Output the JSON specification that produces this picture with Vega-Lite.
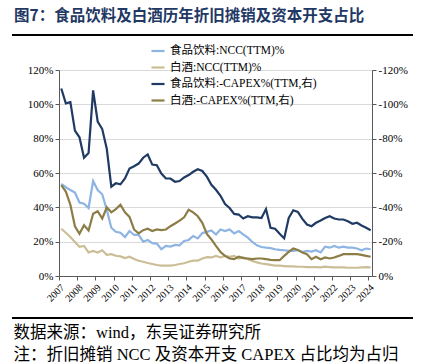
{
  "$schema": "https://vega.github.io/schema/vega-lite/v6.json",
  "width": 313,
  "height": 206,
  "autosize": {"type": "none"},
  "padding": {"left": 59, "top": 70, "right": 52, "bottom": 88},
  "background": "white",
  "title": {
    "text": "图7：食品饮料及白酒历年折旧摊销及资本开支占比",
    "anchor": "start",
    "dx": 3,
    "offset": 9,
    "font": "Noto Sans CJK SC",
    "fontSize": 15.5,
    "fontWeight": "bold",
    "color": "#1F3864"
  },
  "config": {
    "view": {"stroke": null},
    "font": "Liberation Serif, Noto Sans CJK SC",
    "axis": {
      "labelFont": "Liberation Serif, Noto Sans CJK SC",
      "labelFontSize": 11,
      "labelColor": "#000000",
      "domainColor": "#595959",
      "tickColor": "#595959",
      "tickSize": 4,
      "gridColor": "#d9d9d9",
      "labelPadding": 2
    },
    "axisX": {"labelOverlap": false, "labelAngle": -45, "labelFontSize": 10, "labelFlush": false, "tickCount": 30},
    "legend": {
      "labelFont": "Liberation Serif, Noto Sans CJK SC",
      "labelFontSize": 11.5,
      "labelColor": "#000000"
    }
  },
  "data": {
    "values": [
      {"t": 2007.125, "食品饮料:NCC(TTM)%": 0.536, "白酒:NCC(TTM)%": 0.275, "食品饮料:-CAPEX%(TTM,右)": -1.092, "白酒:-CAPEX%(TTM,右)": -0.530},
      {"t": 2007.375, "食品饮料:NCC(TTM)%": 0.517, "白酒:NCC(TTM)%": 0.252, "食品饮料:-CAPEX%(TTM,右)": -1.006, "白酒:-CAPEX%(TTM,右)": -0.492},
      {"t": 2007.625, "食品饮料:NCC(TTM)%": 0.501, "白酒:NCC(TTM)%": 0.227, "食品饮料:-CAPEX%(TTM,右)": -1.013, "白酒:-CAPEX%(TTM,右)": -0.415},
      {"t": 2007.875, "食品饮料:NCC(TTM)%": 0.486, "白酒:NCC(TTM)%": 0.198, "食品饮料:-CAPEX%(TTM,右)": -0.847, "白酒:-CAPEX%(TTM,右)": -0.290},
      {"t": 2008.125, "食品饮料:NCC(TTM)%": 0.428, "白酒:NCC(TTM)%": 0.170, "食品饮料:-CAPEX%(TTM,右)": -0.808, "白酒:-CAPEX%(TTM,右)": -0.246},
      {"t": 2008.375, "食品饮料:NCC(TTM)%": 0.421, "白酒:NCC(TTM)%": 0.175, "食品饮料:-CAPEX%(TTM,右)": -0.689, "白酒:-CAPEX%(TTM,右)": -0.296},
      {"t": 2008.625, "食品饮料:NCC(TTM)%": 0.396, "白酒:NCC(TTM)%": 0.137, "食品饮料:-CAPEX%(TTM,右)": -0.716, "白酒:-CAPEX%(TTM,右)": -0.265},
      {"t": 2008.875, "食品饮料:NCC(TTM)%": 0.553, "白酒:NCC(TTM)%": 0.146, "食品饮料:-CAPEX%(TTM,右)": -1.081, "白酒:-CAPEX%(TTM,右)": -0.363},
      {"t": 2009.125, "食品饮料:NCC(TTM)%": 0.501, "白酒:NCC(TTM)%": 0.137, "食品饮料:-CAPEX%(TTM,右)": -0.900, "白酒:-CAPEX%(TTM,右)": -0.377},
      {"t": 2009.375, "食品饮料:NCC(TTM)%": 0.476, "白酒:NCC(TTM)%": 0.150, "食品饮料:-CAPEX%(TTM,右)": -0.856, "白酒:-CAPEX%(TTM,右)": -0.334},
      {"t": 2009.625, "食品饮料:NCC(TTM)%": 0.386, "白酒:NCC(TTM)%": 0.123, "食品饮料:-CAPEX%(TTM,右)": -0.741, "白酒:-CAPEX%(TTM,右)": -0.400},
      {"t": 2009.875, "食品饮料:NCC(TTM)%": 0.281, "白酒:NCC(TTM)%": 0.127, "食品饮料:-CAPEX%(TTM,右)": -0.520, "白酒:-CAPEX%(TTM,右)": -0.371},
      {"t": 2010.125, "食品饮料:NCC(TTM)%": 0.258, "白酒:NCC(TTM)%": 0.118, "食品饮料:-CAPEX%(TTM,右)": -0.540, "白酒:-CAPEX%(TTM,右)": -0.390},
      {"t": 2010.375, "食品饮料:NCC(TTM)%": 0.252, "白酒:NCC(TTM)%": 0.114, "食品饮料:-CAPEX%(TTM,右)": -0.534, "白酒:-CAPEX%(TTM,右)": -0.415},
      {"t": 2010.625, "食品饮料:NCC(TTM)%": 0.227, "白酒:NCC(TTM)%": 0.104, "食品饮料:-CAPEX%(TTM,右)": -0.568, "白酒:-CAPEX%(TTM,右)": -0.371},
      {"t": 2010.875, "食品饮料:NCC(TTM)%": 0.262, "白酒:NCC(TTM)%": 0.112, "食品饮料:-CAPEX%(TTM,右)": -0.626, "白酒:-CAPEX%(TTM,右)": -0.344},
      {"t": 2011.125, "食品饮料:NCC(TTM)%": 0.239, "白酒:NCC(TTM)%": 0.099, "食品饮料:-CAPEX%(TTM,右)": -0.639, "白酒:-CAPEX%(TTM,右)": -0.271},
      {"t": 2011.375, "食品饮料:NCC(TTM)%": 0.239, "白酒:NCC(TTM)%": 0.089, "食品饮料:-CAPEX%(TTM,右)": -0.655, "白酒:-CAPEX%(TTM,右)": -0.248},
      {"t": 2011.625, "食品饮料:NCC(TTM)%": 0.200, "白酒:NCC(TTM)%": 0.083, "食品饮料:-CAPEX%(TTM,右)": -0.689, "白酒:-CAPEX%(TTM,右)": -0.267},
      {"t": 2011.875, "食品饮料:NCC(TTM)%": 0.210, "白酒:NCC(TTM)%": 0.076, "食品饮料:-CAPEX%(TTM,右)": -0.708, "白酒:-CAPEX%(TTM,右)": -0.275},
      {"t": 2012.125, "食品饮料:NCC(TTM)%": 0.191, "白酒:NCC(TTM)%": 0.070, "食品饮料:-CAPEX%(TTM,右)": -0.649, "白酒:-CAPEX%(TTM,右)": -0.262},
      {"t": 2012.375, "食品饮料:NCC(TTM)%": 0.189, "白酒:NCC(TTM)%": 0.064, "食品饮料:-CAPEX%(TTM,右)": -0.645, "白酒:-CAPEX%(TTM,右)": -0.271},
      {"t": 2012.625, "食品饮料:NCC(TTM)%": 0.156, "白酒:NCC(TTM)%": 0.060, "食品饮料:-CAPEX%(TTM,右)": -0.597, "白酒:-CAPEX%(TTM,右)": -0.267},
      {"t": 2012.875, "食品饮料:NCC(TTM)%": 0.175, "白酒:NCC(TTM)%": 0.060, "食品饮料:-CAPEX%(TTM,右)": -0.568, "白酒:-CAPEX%(TTM,右)": -0.271},
      {"t": 2013.125, "食品饮料:NCC(TTM)%": 0.171, "白酒:NCC(TTM)%": 0.060, "食品饮料:-CAPEX%(TTM,右)": -0.568, "白酒:-CAPEX%(TTM,右)": -0.290},
      {"t": 2013.375, "食品饮料:NCC(TTM)%": 0.181, "白酒:NCC(TTM)%": 0.064, "食品饮料:-CAPEX%(TTM,右)": -0.549, "白酒:-CAPEX%(TTM,右)": -0.306},
      {"t": 2013.625, "食品饮料:NCC(TTM)%": 0.179, "白酒:NCC(TTM)%": 0.070, "食品饮料:-CAPEX%(TTM,右)": -0.553, "白酒:-CAPEX%(TTM,右)": -0.323},
      {"t": 2013.875, "食品饮料:NCC(TTM)%": 0.204, "白酒:NCC(TTM)%": 0.074, "食品饮料:-CAPEX%(TTM,右)": -0.574, "白酒:-CAPEX%(TTM,右)": -0.342},
      {"t": 2014.125, "食品饮料:NCC(TTM)%": 0.210, "白酒:NCC(TTM)%": 0.083, "食品饮料:-CAPEX%(TTM,右)": -0.588, "白酒:-CAPEX%(TTM,右)": -0.386},
      {"t": 2014.375, "食品饮料:NCC(TTM)%": 0.233, "白酒:NCC(TTM)%": 0.089, "食品饮料:-CAPEX%(TTM,右)": -0.607, "白酒:-CAPEX%(TTM,右)": -0.371},
      {"t": 2014.625, "食品饮料:NCC(TTM)%": 0.219, "白酒:NCC(TTM)%": 0.089, "食品饮料:-CAPEX%(TTM,右)": -0.622, "白酒:-CAPEX%(TTM,右)": -0.348},
      {"t": 2014.875, "食品饮料:NCC(TTM)%": 0.250, "白酒:NCC(TTM)%": 0.102, "食品饮料:-CAPEX%(TTM,右)": -0.612, "白酒:-CAPEX%(TTM,右)": -0.310},
      {"t": 2015.125, "食品饮料:NCC(TTM)%": 0.257, "白酒:NCC(TTM)%": 0.110, "食品饮料:-CAPEX%(TTM,右)": -0.579, "白酒:-CAPEX%(TTM,右)": -0.245},
      {"t": 2015.375, "食品饮料:NCC(TTM)%": 0.265, "白酒:NCC(TTM)%": 0.108, "食品饮料:-CAPEX%(TTM,右)": -0.531, "白酒:-CAPEX%(TTM,右)": -0.213},
      {"t": 2015.625, "食品饮料:NCC(TTM)%": 0.242, "白酒:NCC(TTM)%": 0.117, "食品饮料:-CAPEX%(TTM,右)": -0.502, "白酒:-CAPEX%(TTM,右)": -0.175},
      {"t": 2015.875, "食品饮料:NCC(TTM)%": 0.271, "白酒:NCC(TTM)%": 0.108, "食品饮料:-CAPEX%(TTM,右)": -0.467, "白酒:-CAPEX%(TTM,右)": -0.140},
      {"t": 2016.125, "食品饮料:NCC(TTM)%": 0.262, "白酒:NCC(TTM)%": 0.117, "食品饮料:-CAPEX%(TTM,右)": -0.419, "白酒:-CAPEX%(TTM,右)": -0.117},
      {"t": 2016.375, "食品饮料:NCC(TTM)%": 0.271, "白酒:NCC(TTM)%": 0.112, "食品饮料:-CAPEX%(TTM,右)": -0.396, "白酒:-CAPEX%(TTM,右)": -0.102},
      {"t": 2016.625, "食品饮料:NCC(TTM)%": 0.248, "白酒:NCC(TTM)%": 0.117, "食品饮料:-CAPEX%(TTM,右)": -0.362, "白酒:-CAPEX%(TTM,右)": -0.098},
      {"t": 2016.875, "食品饮料:NCC(TTM)%": 0.262, "白酒:NCC(TTM)%": 0.102, "食品饮料:-CAPEX%(TTM,右)": -0.358, "白酒:-CAPEX%(TTM,右)": -0.112},
      {"t": 2017.125, "食品饮料:NCC(TTM)%": 0.242, "白酒:NCC(TTM)%": 0.108, "食品饮料:-CAPEX%(TTM,右)": -0.335, "白酒:-CAPEX%(TTM,右)": -0.104},
      {"t": 2017.375, "食品饮料:NCC(TTM)%": 0.223, "白酒:NCC(TTM)%": 0.098, "食品饮料:-CAPEX%(TTM,右)": -0.348, "白酒:-CAPEX%(TTM,右)": -0.102},
      {"t": 2017.625, "食品饮料:NCC(TTM)%": 0.198, "白酒:NCC(TTM)%": 0.088, "食品饮料:-CAPEX%(TTM,右)": -0.342, "白酒:-CAPEX%(TTM,右)": -0.098},
      {"t": 2017.875, "食品饮料:NCC(TTM)%": 0.179, "白酒:NCC(TTM)%": 0.079, "食品饮料:-CAPEX%(TTM,右)": -0.342, "白酒:-CAPEX%(TTM,右)": -0.102},
      {"t": 2018.125, "食品饮料:NCC(TTM)%": 0.169, "白酒:NCC(TTM)%": 0.073, "食品饮料:-CAPEX%(TTM,右)": -0.338, "白酒:-CAPEX%(TTM,右)": -0.102},
      {"t": 2018.375, "食品饮料:NCC(TTM)%": 0.165, "白酒:NCC(TTM)%": 0.069, "食品饮料:-CAPEX%(TTM,右)": -0.390, "白酒:-CAPEX%(TTM,右)": -0.098},
      {"t": 2018.625, "食品饮料:NCC(TTM)%": 0.162, "白酒:NCC(TTM)%": 0.065, "食品饮料:-CAPEX%(TTM,右)": -0.281, "白酒:-CAPEX%(TTM,右)": -0.094},
      {"t": 2018.875, "食品饮料:NCC(TTM)%": 0.156, "白酒:NCC(TTM)%": 0.060, "食品饮料:-CAPEX%(TTM,右)": -0.275, "白酒:-CAPEX%(TTM,右)": -0.092},
      {"t": 2019.125, "食品饮料:NCC(TTM)%": 0.152, "白酒:NCC(TTM)%": 0.060, "食品饮料:-CAPEX%(TTM,右)": -0.246, "白酒:-CAPEX%(TTM,右)": -0.092},
      {"t": 2019.375, "食品饮料:NCC(TTM)%": 0.150, "白酒:NCC(TTM)%": 0.058, "食品饮料:-CAPEX%(TTM,右)": -0.219, "白酒:-CAPEX%(TTM,右)": -0.117},
      {"t": 2019.625, "食品饮料:NCC(TTM)%": 0.146, "白酒:NCC(TTM)%": 0.056, "食品饮料:-CAPEX%(TTM,右)": -0.338, "白酒:-CAPEX%(TTM,右)": -0.140},
      {"t": 2019.875, "食品饮料:NCC(TTM)%": 0.146, "白酒:NCC(TTM)%": 0.056, "食品饮料:-CAPEX%(TTM,右)": -0.383, "白酒:-CAPEX%(TTM,右)": -0.160},
      {"t": 2020.125, "食品饮料:NCC(TTM)%": 0.150, "白酒:NCC(TTM)%": 0.054, "食品饮料:-CAPEX%(TTM,右)": -0.373, "白酒:-CAPEX%(TTM,右)": -0.152},
      {"t": 2020.375, "食品饮料:NCC(TTM)%": 0.140, "白酒:NCC(TTM)%": 0.054, "食品饮料:-CAPEX%(TTM,右)": -0.333, "白酒:-CAPEX%(TTM,右)": -0.137},
      {"t": 2020.625, "食品饮料:NCC(TTM)%": 0.146, "白酒:NCC(TTM)%": 0.052, "食品饮料:-CAPEX%(TTM,右)": -0.300, "白酒:-CAPEX%(TTM,右)": -0.127},
      {"t": 2020.875, "食品饮料:NCC(TTM)%": 0.142, "白酒:NCC(TTM)%": 0.052, "食品饮料:-CAPEX%(TTM,右)": -0.290, "白酒:-CAPEX%(TTM,右)": -0.098},
      {"t": 2021.125, "食品饮料:NCC(TTM)%": 0.150, "白酒:NCC(TTM)%": 0.052, "食品饮料:-CAPEX%(TTM,右)": -0.310, "白酒:-CAPEX%(TTM,右)": -0.112},
      {"t": 2021.375, "食品饮料:NCC(TTM)%": 0.137, "白酒:NCC(TTM)%": 0.050, "食品饮料:-CAPEX%(TTM,右)": -0.323, "白酒:-CAPEX%(TTM,右)": -0.098},
      {"t": 2021.625, "食品饮料:NCC(TTM)%": 0.171, "白酒:NCC(TTM)%": 0.054, "食品饮料:-CAPEX%(TTM,右)": -0.338, "白酒:-CAPEX%(TTM,右)": -0.108},
      {"t": 2021.875, "食品饮料:NCC(TTM)%": 0.165, "白酒:NCC(TTM)%": 0.052, "食品饮料:-CAPEX%(TTM,右)": -0.348, "白酒:-CAPEX%(TTM,右)": -0.102},
      {"t": 2022.125, "食品饮料:NCC(TTM)%": 0.175, "白酒:NCC(TTM)%": 0.050, "食品饮料:-CAPEX%(TTM,右)": -0.335, "白酒:-CAPEX%(TTM,右)": -0.108},
      {"t": 2022.375, "食品饮料:NCC(TTM)%": 0.165, "白酒:NCC(TTM)%": 0.050, "食品饮料:-CAPEX%(TTM,右)": -0.329, "白酒:-CAPEX%(TTM,右)": -0.117},
      {"t": 2022.625, "食品饮料:NCC(TTM)%": 0.171, "白酒:NCC(TTM)%": 0.050, "食品饮料:-CAPEX%(TTM,右)": -0.329, "白酒:-CAPEX%(TTM,右)": -0.127},
      {"t": 2022.875, "食品饮料:NCC(TTM)%": 0.165, "白酒:NCC(TTM)%": 0.048, "食品饮料:-CAPEX%(TTM,右)": -0.319, "白酒:-CAPEX%(TTM,右)": -0.127},
      {"t": 2023.125, "食品饮料:NCC(TTM)%": 0.165, "白酒:NCC(TTM)%": 0.048, "食品饮料:-CAPEX%(TTM,右)": -0.304, "白酒:-CAPEX%(TTM,右)": -0.127},
      {"t": 2023.375, "食品饮料:NCC(TTM)%": 0.160, "白酒:NCC(TTM)%": 0.048, "食品饮料:-CAPEX%(TTM,右)": -0.310, "白酒:-CAPEX%(TTM,右)": -0.127},
      {"t": 2023.625, "食品饮料:NCC(TTM)%": 0.150, "白酒:NCC(TTM)%": 0.050, "食品饮料:-CAPEX%(TTM,右)": -0.294, "白酒:-CAPEX%(TTM,右)": -0.123},
      {"t": 2023.875, "食品饮料:NCC(TTM)%": 0.160, "白酒:NCC(TTM)%": 0.052, "食品饮料:-CAPEX%(TTM,右)": -0.281, "白酒:-CAPEX%(TTM,右)": -0.117},
      {"t": 2024.125, "食品饮料:NCC(TTM)%": 0.156, "白酒:NCC(TTM)%": 0.050, "食品饮料:-CAPEX%(TTM,右)": -0.267, "白酒:-CAPEX%(TTM,右)": -0.112}
    ]
  },
  "layer": [
    {
      "transform": [{"fold": ["食品饮料:NCC(TTM)%", "白酒:NCC(TTM)%"], "as": ["series", "value"]}],
      "mark": {"type": "line", "strokeWidth": 2.2},
      "encoding": {
        "x": {
          "field": "t", "type": "quantitative",
          "scale": {"domain": [2007, 2024.2], "nice": false, "zero": false},
          "axis": {
            "values": [2007, 2008, 2009, 2010, 2011, 2012, 2013, 2014, 2015, 2016, 2017, 2018, 2019, 2020, 2021, 2022, 2023, 2024],
            "tickCount": 30,
            "format": "d", "labelAngle": -45, "labelFontSize": 10, "labelOverlap": false, "labelFlush": false, "grid": false,
            "title": ["数据来源：wind，东吴证券研究所", "注：折旧摊销 NCC 及资本开支 CAPEX 占比均为占归"],
            "titleFont": "Liberation Serif, Noto Sans CJK SC",
            "titleFontSize": 16.5, "titleFontWeight": "normal", "titleColor": "#000000",
            "titleAnchor": "start", "titleAlign": "left", "titleBaseline": "top",
            "titleX": -46, "titleY": 48, "titleLineHeight": 22
          }
        },
        "y": {
          "field": "value", "type": "quantitative",
          "scale": {"domain": [0, 1.2], "nice": false},
          "axis": {"values": [0, 0.2, 0.4, 0.6, 0.8, 1.0, 1.2], "tickCount": 10, "format": ".0%", "grid": true, "title": null}
        },
        "color": {
          "field": "series", "type": "nominal",
          "scale": {
            "domain": ["食品饮料:NCC(TTM)%", "白酒:NCC(TTM)%", "食品饮料:-CAPEX%(TTM,右)", "白酒:-CAPEX%(TTM,右)"],
            "range": ["#8EB4E3", "#CBBE96", "#1F3A63", "#8C7D47"]
          },
          "legend": {"orient": "none", "legendX": 91, "legendY": -27, "title": null, "symbolType": "stroke", "symbolSize": 170, "symbolStrokeWidth": 2.2, "rowPadding": 2.5, "labelOffset": 4}
        }
      }
    },
    {
      "transform": [{"fold": ["食品饮料:-CAPEX%(TTM,右)", "白酒:-CAPEX%(TTM,右)"], "as": ["series", "value"]}],
      "mark": {"type": "line", "strokeWidth": 2.2},
      "encoding": {
        "x": {"field": "t", "type": "quantitative", "scale": {"domain": [2007, 2024.2], "nice": false, "zero": false}},
        "y": {
          "field": "value", "type": "quantitative",
          "scale": {"domain": [0, -1.2], "nice": false},
          "axis": {"orient": "right", "values": [0, -0.2, -0.4, -0.6, -0.8, -1.0, -1.2], "tickCount": 10, "labelExpr": "replace(format(datum.value, '.0%'), '\u2212', '-')", "grid": false, "title": null}
        },
        "color": {"field": "series", "type": "nominal"}
      }
    },
    {
      "mark": {"type": "rule", "strokeWidth": 2, "color": "#000000"},
      "encoding": {
        "x": {"datum": 2004.42, "type": "quantitative", "scale": {"domain": [2007, 2024.2], "nice": false, "zero": false}},
        "x2": {"datum": 2026.45},
        "y": {"datum": 1.404, "type": "quantitative", "scale": {"domain": [0, 1.2], "nice": false}, "axis": null}
      }
    },
    {
      "mark": {"type": "rule", "strokeWidth": 2, "color": "#000000"},
      "encoding": {
        "x": {"datum": 2004.42, "type": "quantitative", "scale": {"domain": [2007, 2024.2], "nice": false, "zero": false}},
        "x2": {"datum": 2026.45},
        "y": {"datum": -0.2447, "type": "quantitative", "scale": {"domain": [0, 1.2], "nice": false}, "axis": null}
      }
    }
  ],
  "resolve": {"scale": {"y": "independent"}}
}
